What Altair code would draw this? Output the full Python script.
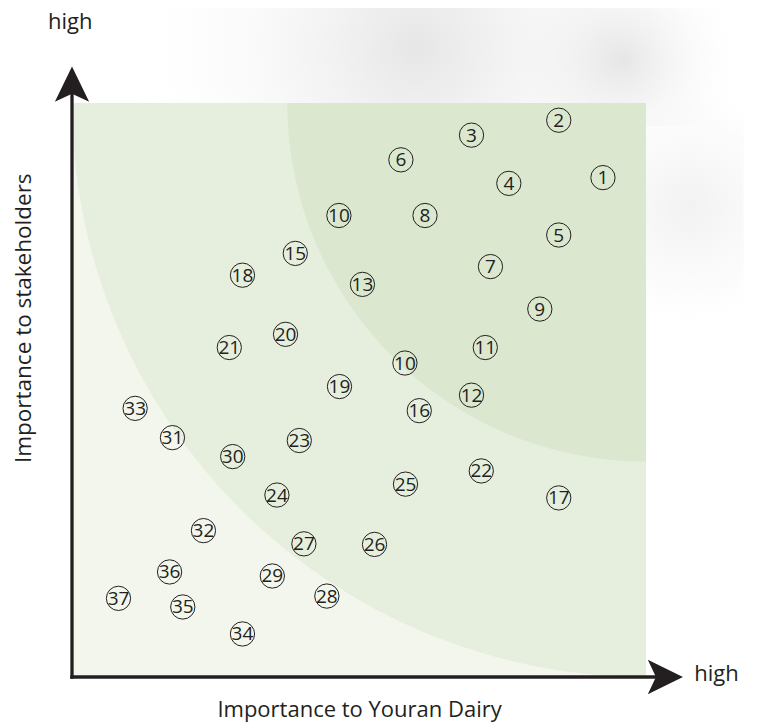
import altair as alt
import pandas as pd
import math

# ---- data ----
labels = ["1", "2", "3", "4", "5", "6", "7", "8", "9", "10", "11", "12", "13", "10",
          "15", "16", "17", "18", "19", "20", "21", "22", "23", "24", "25", "26",
          "27", "28", "29", "30", "31", "32", "33", "34", "35", "36", "37"]
dairy = [9.25, 8.48, 6.96, 7.61, 8.48, 5.73, 7.29, 6.15, 8.15, 4.65, 7.20, 6.96, 5.06, 5.80,
         3.89, 6.05, 8.48, 2.97, 4.66, 3.72, 2.74, 7.13, 3.96, 3.57, 5.81, 5.27,
         4.04, 4.44, 3.49, 2.80, 1.75, 2.29, 1.10, 2.97, 1.93, 1.70, 0.81]
stakeholders = [8.70, 9.70, 9.44, 8.60, 7.70, 9.01, 7.15, 8.04, 6.41, 8.04, 5.74, 4.91, 6.84, 5.47,
                7.38, 4.64, 3.12, 7.00, 5.06, 5.97, 5.74, 3.59, 4.12, 3.17, 3.36, 2.31,
                2.32, 1.41, 1.76, 3.84, 4.17, 2.55, 4.68, 0.75, 1.22, 1.83, 1.37]

# concentric priority zones, centred on the top-right corner (radius in axis units)
zone_radius = [10.0, 6.25]
zone_color = ["#e6efdd", "#dbe8cf"]

# soft grey haze behind the top of the chart (decorative)
haze_x = [1.0, 7.5, 9.8]
haze_x2 = [11.0, 11.7, 11.7]
haze_y = [11.95, 11.9, 10.4]
haze_y2 = [10.0, 9.6, 6.0]
haze_c = ["rgba(200,200,200,0.45)", "rgba(195,195,195,0.4)", "rgba(210,210,210,0.3)"]

W = 574
xs = alt.Scale(domain=[0, 10], nice=False, zero=False)
ys = alt.Scale(domain=[0, 10], nice=False, zero=False)
rs = alt.Scale(type="linear", domain=[0, 10], range=[0, W], zero=True)

pts = pd.DataFrame({"label": labels, "x": dairy, "y": stakeholders})

FONT = "Open Sans"
INK = "#231f20"

haze = []
for x1, x2, y1, y2, c in zip(haze_x, haze_x2, haze_y, haze_y2, haze_c):
    haze.append(
        alt.Chart(pd.DataFrame({"x": [x1], "x2": [x2], "y": [y1], "y2": [y2]})).mark_rect(
            clip=False,
            color=alt.Gradient(gradient="radial", x1=0.5, y1=0.5, x2=0.5, y2=0.5, r1=0, r2=0.5,
                               stops=[
                alt.GradientStop(color=c, offset=0),
                alt.GradientStop(color="rgba(230,230,230,0.15)", offset=0.65),
                alt.GradientStop(color="rgba(255,255,255,0)", offset=1)])).encode(
            x=alt.X("x:Q", scale=xs, axis=None), x2="x2:Q",
            y=alt.Y("y:Q", scale=ys, axis=None), y2="y2:Q"))

bg = alt.Chart(pd.DataFrame({"x": [0], "x2": [10], "y": [0], "y2": [10]})).mark_rect(
    color="#f2f6ec").encode(
    x=alt.X("x:Q", scale=xs, axis=None), x2="x2:Q",
    y=alt.Y("y:Q", scale=ys, axis=None), y2="y2:Q")

zones = []
for r, c in zip(zone_radius, zone_color):
    zones.append(
        alt.Chart(pd.DataFrame({"cx": [10], "cy": [10], "r": [r]})).mark_arc(
            color=c, clip=True).encode(
            x=alt.X("cx:Q", scale=xs, axis=None),
            y=alt.Y("cy:Q", scale=ys, axis=None),
            radius=alt.Radius("r:Q", scale=rs),
            theta=alt.value(math.pi), theta2=alt.value(1.5 * math.pi)))

# axis arrows
vrule = alt.Chart(pd.DataFrame({"x": [0], "y": [-0.03], "y2": [10.2]})).mark_rule(
    color=INK, strokeWidth=3.3).encode(
    x=alt.X("x:Q", scale=xs, axis=None), y=alt.Y("y:Q", scale=ys, axis=None), y2="y2:Q")
hrule = alt.Chart(pd.DataFrame({"x": [-0.03], "x2": [10.2], "y": [0]})).mark_rule(
    color=INK, strokeWidth=3.3).encode(
    x=alt.X("x:Q", scale=xs, axis=None), x2="x2:Q", y=alt.Y("y:Q", scale=ys, axis=None))
arrow_path = "M0,-1L0.95,0.95L0,0.5L-0.95,0.95Z"
heads = alt.Chart(pd.DataFrame({"x": [0, 10.33], "y": [10.32, 0], "a": [0, 90]})).mark_point(
    shape=arrow_path, filled=True, color=INK, size=1300, opacity=1).encode(
    x=alt.X("x:Q", scale=xs, axis=None), y=alt.Y("y:Q", scale=ys, axis=None),
    angle=alt.Angle("a:Q", scale=None))

circles = alt.Chart(pts).mark_point(
    shape="circle", filled=False, color=INK, strokeWidth=1, size=590, opacity=1).encode(
    x=alt.X("x:Q", scale=xs, axis=None), y=alt.Y("y:Q", scale=ys, axis=None))
nums = alt.Chart(pts).mark_text(
    font=FONT, fontSize=19, color=INK, baseline="middle", align="center", dy=0.5).encode(
    x=alt.X("x:Q", scale=xs, axis=None), y=alt.Y("y:Q", scale=ys, axis=None), text="label:N")

texts = pd.DataFrame({
    "t": ["high", "high", "Importance to Youran Dairy"],
    "x": [-0.03, 10.84, 5.01],
    "y": [11.29, -0.07, -0.70],
})
t1 = alt.Chart(texts.iloc[[0]]).mark_text(font=FONT, fontSize=22, color=INK, align="center",
                                           baseline="alphabetic").encode(
    x=alt.X("x:Q", scale=xs, axis=None), y=alt.Y("y:Q", scale=ys, axis=None), text="t:N")
t2 = alt.Chart(texts.iloc[[1]]).mark_text(font=FONT, fontSize=22, color=INK, align="left",
                                           baseline="alphabetic").encode(
    x=alt.X("x:Q", scale=xs, axis=None), y=alt.Y("y:Q", scale=ys, axis=None), text="t:N")
t3 = alt.Chart(texts.iloc[[2]]).mark_text(font=FONT, fontSize=22, color=INK, align="center",
                                           baseline="alphabetic").encode(
    x=alt.X("x:Q", scale=xs, axis=None), y=alt.Y("y:Q", scale=ys, axis=None), text="t:N")
t4 = alt.Chart(pd.DataFrame({"t": ["Importance to stakeholders"], "x": [-0.72], "y": [6.25]})).mark_text(
    font=FONT, fontSize=22.5, color=INK, align="center", baseline="alphabetic", angle=270).encode(
    x=alt.X("x:Q", scale=xs, axis=None), y=alt.Y("y:Q", scale=ys, axis=None), text="t:N")

chart = alt.layer(*haze, bg, *zones, vrule, hrule, heads, circles, nums, t1, t2, t3, t4).properties(
    width=W, height=W,
    padding={"left": 64, "top": 95, "right": 100, "bottom": 48},
    autosize=alt.AutoSizeParams(type="none"),
    background="white",
).configure_view(stroke=None)

chart.save("out.html", embed_options={"renderer": "svg", "actions": False})
